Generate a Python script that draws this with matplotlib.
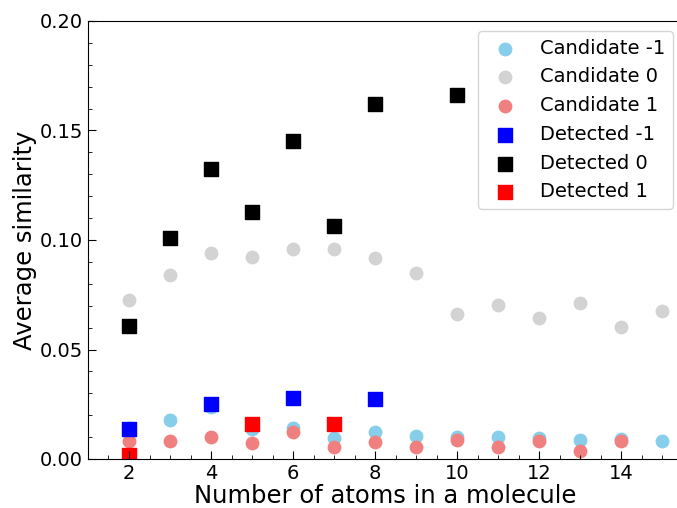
import matplotlib
matplotlib.use("Agg")
import matplotlib.pyplot as plt
from matplotlib.ticker import MultipleLocator

my_fontsize = 14

# number of atoms
n_cand = [2, 3, 4, 5, 6, 7, 8, 9, 10, 11, 12, 13, 14, 15]
cand_m1 = [0.0140, 0.0180, 0.0236, 0.0137, 0.0143, 0.0094, 0.0125, 0.0105,
           0.0099, 0.0099, 0.0094, 0.0088, 0.0090, 0.0081]
cand_0 = [0.0726, 0.0840, 0.0941, 0.0922, 0.0959, 0.0959, 0.0918, 0.0849,
          0.0662, 0.0703, 0.0644, 0.0712, 0.0603, 0.0676]
n_cand_1 = [2, 3, 4, 5, 6, 7, 8, 9, 10, 11, 12, 13, 14]
cand_1 = [0.0082, 0.0082, 0.0102, 0.0074, 0.0122, 0.0056, 0.0076, 0.0056,
          0.0085, 0.0054, 0.0082, 0.0038, 0.0083]

n_det_m1 = [2, 4, 6, 8]
det_m1 = [0.0136, 0.0250, 0.0277, 0.0273]
n_det_0 = [2, 3, 4, 5, 6, 7, 8, 10]
det_0 = [0.0607, 0.1009, 0.1324, 0.1128, 0.1452, 0.1064, 0.1621, 0.1662]
n_det_1 = [2, 5, 7]
det_1 = [0.0018, 0.0158, 0.0160]

fig = plt.figure(figsize=(6.77, 5.08), dpi=100)
ax = fig.add_axes([88 / 677, 49 / 508, 594.5 / 677, 438 / 508])

ax.scatter(n_cand, cand_m1, s=80, marker='o', color='skyblue', label='Candidate -1')
ax.scatter(n_cand, cand_0, s=80, marker='o', color='lightgray', label='Candidate 0')
ax.scatter(n_cand_1, cand_1, s=80, marker='o', color='lightcoral', label='Candidate 1')
ax.scatter(n_det_m1, det_m1, s=100, marker='s', color='blue', label='Detected -1')
ax.scatter(n_det_0, det_0, s=100, marker='s', color='black', label='Detected 0')
ax.scatter(n_det_1, det_1, s=100, marker='s', color='red', label='Detected 1')

ax.set_xlim(1, 15.5)
ax.set_ylim(0, 0.2)
ax.set_xticks([2, 4, 6, 8, 10, 12, 14])
ax.set_yticks([0.0, 0.05, 0.10, 0.15, 0.20])
ax.set_yticklabels(['0.00', '0.05', '0.10', '0.15', '0.20'])
ax.xaxis.set_minor_locator(MultipleLocator(0.5))
ax.yaxis.set_minor_locator(MultipleLocator(0.01))
ax.tick_params(which='both', direction='in', labelsize=my_fontsize)
ax.tick_params(which='major', length=6)
ax.tick_params(which='minor', length=3)

ax.set_xlabel('Number of atoms in a molecule', fontsize=17.5, labelpad=1)
ax.set_ylabel('Average similarity', fontsize=17.5, labelpad=2)

ax.legend(fontsize=14, loc='upper right', bbox_to_anchor=(673 / 677, 1 - 31 / 508),
          bbox_transform=fig.transFigure, borderaxespad=0)

fig.savefig("out.png", dpi=100)
